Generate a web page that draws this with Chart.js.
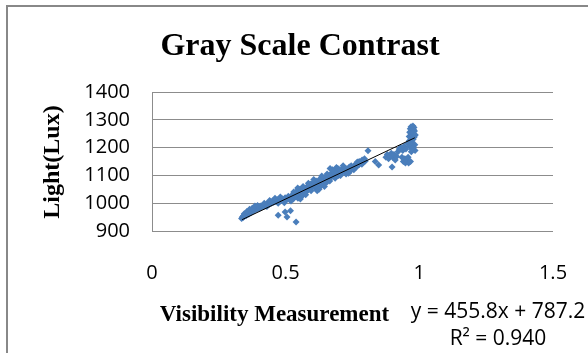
<!DOCTYPE html>
<html><head><meta charset="utf-8">
<script src="https://cdn.jsdelivr.net/npm/chart.js@4.4.1/dist/chart.umd.min.js"></script>
<style>html,body{margin:0;padding:0;background:#fff}canvas{display:block}</style>
</head>
<body>
<canvas id="c" width="588" height="353"></canvas>
<script>
const visibility = [
  0.335,0.338,0.340,0.342,0.345,0.347,0.350,0.352,0.355,0.357,0.360,0.362,0.365,0.368,0.370,0.373,0.376,0.380,0.383,0.386,0.390,0.393,0.396,0.400,
  0.345,0.355,0.365,0.375,0.385,0.395,
  0.403,0.407,0.410,0.414,0.418,0.422,0.426,0.430,0.434,0.438,0.442,0.446,0.450,0.455,0.460,0.464,0.468,0.472,0.476,0.480,0.485,0.490,0.495,0.498,0.500,
  0.420,0.440,0.460,0.480,0.430,
  0.472,0.498,0.505,0.518,0.539,
  0.505,0.510,0.515,0.520,0.525,0.528,0.532,0.535,0.540,0.543,0.546,0.550,0.553,0.556,0.560,0.563,0.567,0.570,0.574,0.578,0.582,0.585,0.588,0.592,0.595,0.598,
  0.545,0.555,0.565,0.575,0.585,0.595,0.530,0.520,
  0.602,0.606,0.610,0.614,0.618,0.622,0.626,0.630,0.634,0.638,0.642,0.646,0.650,0.654,0.658,0.662,0.666,0.670,0.674,0.678,0.682,0.686,0.690,0.694,0.698,
  0.605,0.615,0.625,0.635,0.645,0.655,0.665,0.675,0.685,0.695,
  0.702,0.708,0.714,0.720,0.726,0.732,0.738,0.744,0.750,0.756,0.762,0.768,0.774,0.780,0.786,0.792,0.798,0.808,
  0.705,0.715,0.725,0.735,0.745,0.755,0.765,0.775,0.785,0.795,
  0.835,0.848,0.875,0.880,0.885,0.890,0.895,0.898,0.900,0.905,0.910,0.915,0.920,0.925,
  0.930,0.935,0.938,0.940,0.943,0.946,0.948,0.950,0.952,0.955,0.957,0.958,0.960,0.962,0.963,0.964,0.965,0.966,0.967,0.968,0.969,0.970,0.971,0.972,0.973,0.974,0.975,0.976,0.977,0.978,0.979,0.980,0.981,0.982,0.983,0.984,0.985,0.978,0.970,0.972
];
const light = [
  945,950,948,955,952,958,960,955,965,962,968,960,970,972,966,975,970,978,974,982,978,985,980,988,
  962,970,978,982,990,992,
  982,990,985,992,988,995,990,998,1000,995,1005,1000,1008,1003,1010,1005,1012,1000,1015,1008,1018,1012,1002,1020,1010,
  1000,1010,1018,1022,988,
  957,968,950,973,932,
  1018,1025,1012,1022,1030,1015,1020,1035,1025,1045,1018,1030,1050,1022,1040,1028,1045,1035,1055,1042,1060,1048,1065,1052,1070,1058,
  1055,1015,1060,1030,1072,1045,1040,1008,
  1065,1075,1055,1080,1045,1070,1085,1060,1078,1090,1068,1082,1095,1075,1088,1100,1125,1092,1110,1098,1118,1105,1128,1112,1100,
  1085,1062,1050,1098,1060,1105,1080,1120,1090,1125,
  1120,1108,1125,1115,1105,1120,1130,1118,1128,1135,1140,1148,1138,1145,1155,1148,1152,1189,
  1100,1135,1125,1108,1135,1120,1130,1150,1140,1160,
  1150,1137,1165,1175,1160,1170,1180,1130,1165,1175,1155,1168,1185,1195,
  1200,1165,1190,1150,1205,1160,1145,1195,1158,1150,1215,1165,1145,1240,1225,1255,1205,1268,1150,1235,1275,1248,1262,1220,1270,1242,1256,1278,1230,1265,1250,1272,1238,1260,1210,1190,1245,1200,1185,1195
];
const trendX = [0.337, 0.983];
const trendY = [940.8, 1235.3];
const xTicks = [0, 0.5, 1, 1.5];
const yTicks = [900, 1000, 1100, 1200, 1300, 1400];
const chartTitle = 'Gray Scale Contrast';
const xTitle = 'Visibility Measurement';
const yTitle = 'Light(Lux)';
const eqLine1 = 'y = 455.8x + 787.2';
const eqLine2 = 'R² = 0.940';

const deco = {
  id: 'deco',
  beforeDraw(c) {
    const g = c.ctx;
    g.save();
    g.fillStyle = '#fff';
    g.fillRect(0, 0, c.width, c.height);
    g.strokeStyle = '#888';
    g.lineWidth = 2;
    g.strokeRect(7, 6, 700, 500);
    g.restore();
  },
  afterDraw(c) {
    const g = c.ctx;
    g.save();
    g.fillStyle = '#000';
    g.textAlign = 'center';
    g.textBaseline = 'alphabetic';
    g.font = 'bold 32px "Liberation Serif"';
    g.fillText(chartTitle, 300, 55);
    g.font = 'bold 23px "Liberation Serif"';
    g.fillText(xTitle, 274.5, 321);
    g.font = '21px "Open Sans"';
    g.fillText(eqLine1, 498, 318);
    g.fillText(eqLine2, 498, 345);
    g.translate(51.5, 162);
    g.rotate(-Math.PI / 2);
    g.textBaseline = 'middle';
    g.font = 'bold 24px "Liberation Serif"';
    g.fillText(yTitle, 0, 1);
    g.restore();
  }
};

const pts = visibility.map((v, i) => ({ x: v, y: light[i] }));
const trend = trendX.map((v, i) => ({ x: v, y: trendY[i] }));

new Chart(document.getElementById('c'), {
  type: 'scatter',
  data: {
    datasets: [
      { data: pts, pointStyle: 'rectRot', pointRadius: 3.5, backgroundColor: '#4A7EBB', borderColor: '#4A7EBB', borderWidth: 0, order: 2 },
      { type: 'line', data: trend, showLine: true, borderColor: '#000', borderWidth: 1, pointRadius: 0, fill: false, order: 1 }
    ]
  },
  options: {
    responsive: false,
    animation: false,
    devicePixelRatio: 1,
    layout: { padding: { left: 0, top: 92, right: 35, bottom: 0 } },
    plugins: { legend: { display: false }, tooltip: { enabled: false }, title: { display: false } },
    scales: {
      x: {
        type: 'linear', min: 0, max: 1.5,
        afterBuildTicks: s => { s.ticks = xTicks.map(v => ({ value: v })); },
        afterFit: s => { s.height = 122; s.paddingRight = 0; s.paddingLeft = 0; },
        grid: { display: false, drawTicks: false },
        border: { display: false },
        ticks: { padding: 30, maxRotation: 0, color: '#000', font: { family: 'Open Sans', size: 20 }, callback: v => String(v) }
      },
      y: {
        type: 'linear', min: 900, max: 1400,
        afterBuildTicks: s => { s.ticks = yTicks.map(v => ({ value: v })); },
        afterFit: s => { s.width = 152; s.paddingTop = 0; s.paddingBottom = 0; },
        grid: { color: '#8c8c8c', lineWidth: 1, drawTicks: false },
        border: { display: true, color: '#8c8c8c', width: 1 },
        ticks: { padding: 22, color: '#000', font: { family: 'Open Sans', size: 20 }, callback: v => String(v) }
      }
    }
  },
  plugins: [deco]
});
</script>
</body></html>
